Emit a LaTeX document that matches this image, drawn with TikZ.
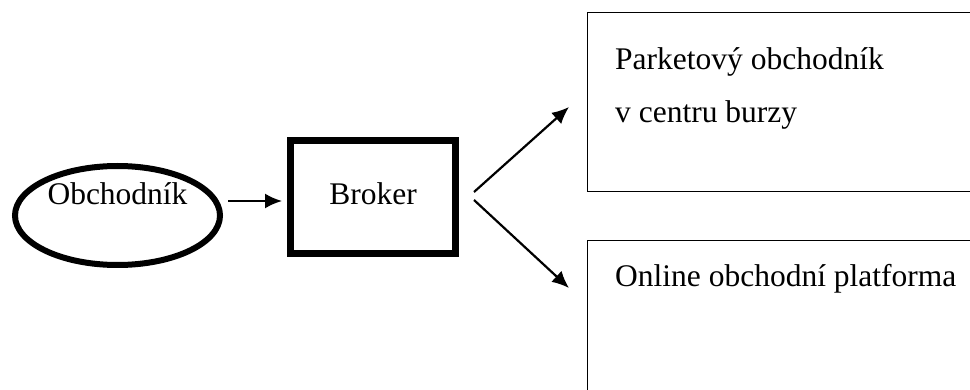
\documentclass[tikz,border=0pt]{standalone}
\usepackage{fontspec}
\setmainfont{Liberation Serif}
\usetikzlibrary{shapes.geometric,arrows.meta}
\begin{document}
\begin{tikzpicture}[x=1pt,y=-1pt,
  lbl/.style={font=\fontsize{31.5}{38}\selectfont, inner sep=0pt},
  conn/.style={line width=2.2pt, -{Latex[length=17pt,width=15pt]}},
  thinbox/.style={draw, line width=1.3pt, rectangle, inner sep=0pt, anchor=north west}]
  \useasboundingbox (0,0) rectangle (970,390);
  \clip (0,0) rectangle (970,390);

  % trader ellipse
  \node[ellipse, draw, line width=6pt, minimum width=205pt, minimum height=99pt, inner sep=0pt]
    (trader) at (117.5,215.5) {};
  \node[lbl, anchor=base] (traderlbl) at (117.5,205) {Obchodník};

  % broker box
  \node[draw, line width=7pt, rectangle, minimum width=164.5pt, minimum height=113.5pt, inner sep=0pt]
    (broker) at (372.75,197.25) {};
  \node[lbl, anchor=base] (brokerlbl) at (373,205) {Broker};

  % target boxes (their right sides run past the edge)
  \node[thinbox, minimum width=400pt, minimum height=179pt] (floor) at (587,12) {};
  \node[thinbox, minimum width=400pt, minimum height=170pt] (online) at (587,240) {};
  \node[lbl, anchor=base west] (floorA) at (615,70) {Parketový obchodník};
  \node[lbl, anchor=base west] (floorB) at (615,123) {v centru burzy};
  \node[lbl, anchor=base west] (onlinelbl) at (615,287) {Online obchodní platforma};

  % connectors
  \coordinate (t1) at (228,201);
  \coordinate (b1) at (282,201);
  \draw[conn] (t1) -- (b1);
  \coordinate (s1) at (474,192);
  \coordinate (e1) at (569,107);
  \draw[conn] (s1) -- (e1);
  \coordinate (s2) at (474,200);
  \coordinate (e2) at (569,288);
  \draw[conn] (s2) -- (e2);
\end{tikzpicture}
\end{document}
